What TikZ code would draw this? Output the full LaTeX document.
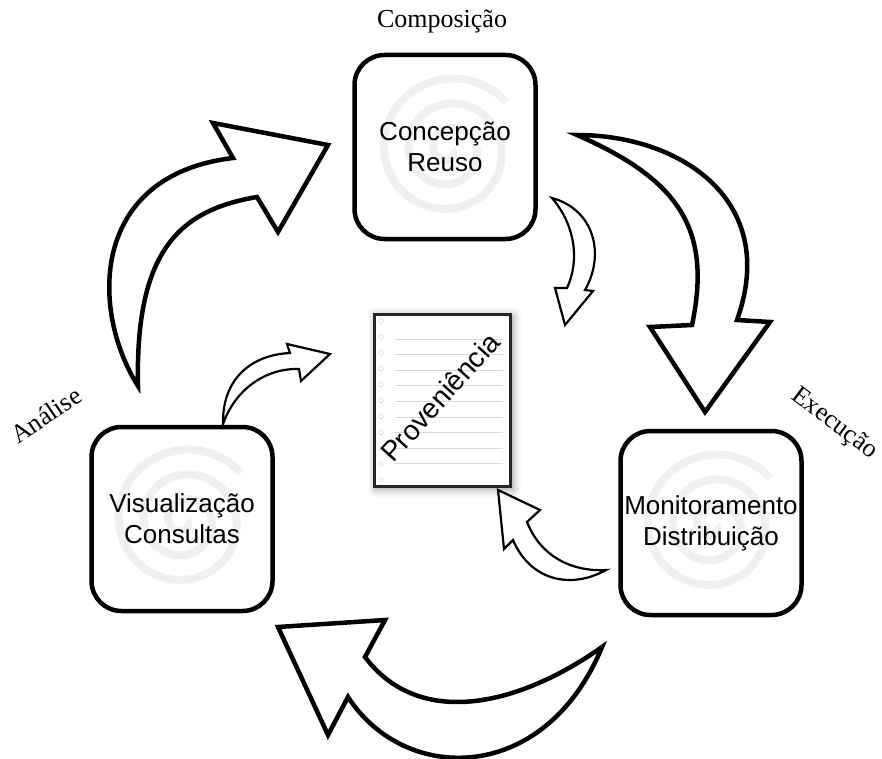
\documentclass[tikz,border=0pt]{standalone}
\usepackage{fontspec}
\setmainfont{Liberation Serif}
\newfontfamily\arialfont{Liberation Sans}
\usepackage{tikz}
\usetikzlibrary{shadows.blur}
\tikzstyle{etapa} = [rectangle, rounded corners=30pt, minimum width=181pt, minimum height=184pt, line width=4.5pt, draw=black, align=center, font=\arialfont\fontsize{26}{31}\selectfont]
\tikzstyle{espiral} = [gray!12, line width=8pt]
\tikzstyle{seta} = [draw=black, fill=white, line width=4.5pt, line join=miter]
\tikzstyle{setinha} = [draw=black, fill=white, line width=2.2pt, line join=miter]
\tikzstyle{fase} = [font=\fontsize{26}{30}\selectfont]
\tikzstyle{folha} = [rectangle, draw=black!85, fill=white, line width=3pt, minimum width=136pt, minimum height=172pt, blur shadow={shadow xshift=2pt, shadow yshift=-2pt, shadow blur radius=9pt, shadow opacity=45}]

\begin{document}
\begin{tikzpicture}[x=1pt, y=-1pt]
  \useasboundingbox (0,0) rectangle (882,759);

  % setas grandes
  \path[seta] (138,386) .. controls (90,310) and (90,175) .. (233,158) -- (213,123) -- (328,145) -- (278,232) -- (257,197) .. controls (180,210) and (135,250) .. cycle;
  \path[seta] (577,135) .. controls (680,135) and (780,200) .. (737,320) -- (770,322) -- (705,412) -- (650,327) -- (692,325) .. controls (712,230) and (680,180) .. cycle;
  \path[seta] (602,647) .. controls (520,705) and (420,730) .. (365,657) -- (385,620) -- (278,627) -- (328,735) -- (348,697) .. controls (405,785) and (545,785) .. cycle;

  % espirais de fundo
  \foreach \cx/\cy in {449/150, 184/521, 713/526}
    \draw[espiral, shift={(\cx,\cy)}] plot[smooth, domain=0:1040, samples=120] ({\x}:{3+\x/14.5});

  \node (conc) [etapa] at (445,147) {Concepção\\Reuso};
  \node (visu) [etapa] at (182,519) {Visualização\\Consultas};
  \node (moni) [etapa] at (711,523) {Monitoramento\\Distribuição};

  \node (prov) [folha] at (442.5,400.5) {};
  \foreach \i in {0,...,8}
    \draw[gray!30, line width=0.8pt] (395,{339+15.6*\i}) -- (503,{339+15.6*\i});
  \foreach \i in {0,...,10}
    \draw[gray!30, line width=0.6pt] (381,{321+15.9*\i}) circle (2.3);
  \node[font=\arialfont\fontsize{28}{30}\selectfont, rotate=48] at (440,397) {Proveniência};

  % setas pequenas
  \path[setinha] (552,198) .. controls (595,210) and (605,255) .. (585,290) -- (593,291) -- (565,325) -- (555,288) -- (567,288) .. controls (580,260) and (575,225) .. cycle;
  \path[setinha] (223,424) .. controls (222,380) and (250,355) .. (290,353) -- (287,344) -- (330,354) -- (301,381) -- (299,369) .. controls (265,368) and (235,390) .. cycle;
  \path[setinha] (606,570) .. controls (570,572) and (540,555) .. (527,522) -- (540,510) -- (498,490) -- (504,549) -- (513,540) .. controls (530,580) and (570,590) .. cycle;

  \node (comp) [fase] at (442,22) {Composição};
  \node (anal) [fase, rotate=34] at (46,415) {Análise};
  \node (exec) [fase, rotate=-37] at (834,424) {Execução};
\end{tikzpicture}
\end{document}
